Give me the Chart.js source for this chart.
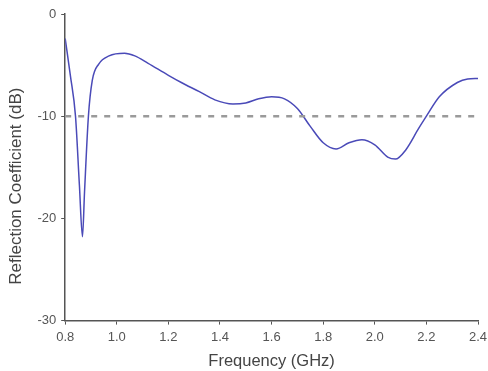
<!DOCTYPE html>
<html><head><meta charset="utf-8">
<script src="https://cdn.jsdelivr.net/npm/chart.js@4/dist/chart.umd.min.js"></script>
<style>html,body{margin:0;padding:0;background:#fff}#wrap{width:488px;height:371px}</style>
</head><body><div id="wrap"><canvas id="c" width="488" height="371"></canvas></div>
<script>
const freq = [0.80,0.82,0.84,0.855,0.867,0.875,0.89,0.905,0.93,0.97,1.03,1.07,1.12,1.20,1.25,1.32,1.38,1.45,1.50,1.55,1.60,1.65,1.70,1.75,1.80,1.85,1.90,1.95,2.00,2.05,2.08,2.12,2.17,2.20,2.25,2.32,2.36,2.40];
const s11 = [-2.4,-6.0,-10,-16.7,-21.8,-17.4,-10,-6.5,-4.9,-4.1,-3.85,-4.1,-4.8,-6.0,-6.7,-7.6,-8.4,-8.8,-8.7,-8.3,-8.1,-8.3,-9.25,-11,-12.6,-13.2,-12.6,-12.3,-12.8,-14.0,-14.2,-13.3,-11.2,-10,-8.1,-6.7,-6.35,-6.3];
const refFreq = [0.8, 2.4];
const refLevel = [-10, -10];
const xTicks = [0.8,1.0,1.2,1.4,1.6,1.8,2.0,2.2,2.4];
const yTicks = [-30,-20,-10,0];

const fam = '"Liberation Sans", Arial, sans-serif';
const tickFont = {family:fam, size:13};
new Chart(document.getElementById('c'), {
  type:'line',
  data:{datasets:[
    {data:refFreq.map((x,i)=>({x,y:refLevel[i]})), borderColor:'#9a9a9a', borderWidth:2.5, borderDash:[6,7], pointRadius:0, tension:0},
    {data:freq.map((x,i)=>({x,y:s11[i]})), borderColor:'#4a4ab8', borderWidth:1.5, pointRadius:0, cubicInterpolationMode:'monotone'}
  ]},
  options:{
    responsive:false, animation:false,
    layout:{padding:{left:6,right:0,top:14,bottom:0}},
    plugins:{legend:{display:false},tooltip:{enabled:false}},
    scales:{
      x:{type:'linear',min:0.8,max:2.4,
        afterBuildTicks:s=>{s.ticks=xTicks.map(v=>({value:v}));},
        afterFit:s=>{s.paddingRight=10;},
        ticks:{font:tickFont,color:'#555',padding:5,maxRotation:0,callback:v=>v.toFixed(1)},
        grid:{drawOnChartArea:false,tickLength:4,color:'#555'},
        border:{color:'#555',width:1.5},
        title:{display:true,text:'Frequency (GHz)',font:{family:fam,size:16.5},color:'#444',padding:{top:1,bottom:0}}
      },
      y:{type:'linear',min:-30,max:0,
        afterBuildTicks:s=>{s.ticks=yTicks.map(v=>({value:v}));},
        ticks:{font:tickFont,color:'#555',padding:5},
        grid:{drawOnChartArea:false,tickLength:4,color:'#555'},
        border:{color:'#555',width:1.5},
        title:{display:true,text:'Reflection Coefficient (dB)\u00A0\u00A0\u00A0\u00A0\u00A0\u00A0\u00A0\u00A0',font:{family:fam,size:17},color:'#444',padding:{top:0,bottom:6}}
      }
    }
  }
});
</script></body></html>
